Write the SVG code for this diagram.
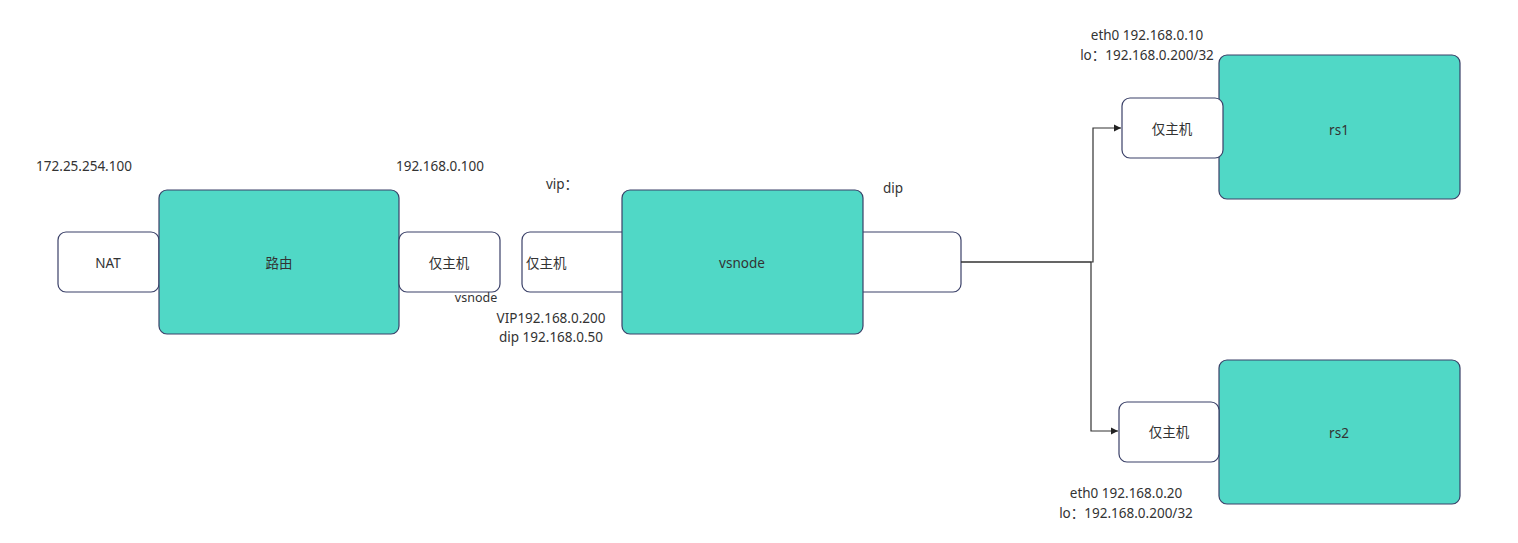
<svg xmlns="http://www.w3.org/2000/svg" width="1518" height="543" viewBox="0 0 1518 543">
<defs>
<style>
.w{fill:#ffffff;stroke:#3a4068;stroke-width:1.2}
.t{fill:#50d8c6;stroke:#3a4068;stroke-width:1.2}
text{font-family:"Noto Sans","Noto Sans CJK SC",sans-serif;font-size:13.5px;fill:#333333}
.m{text-anchor:middle;dominant-baseline:central}
.c{fill:none;stroke:#333333;stroke-width:1.2}
</style>
<marker id="ah" markerWidth="8" markerHeight="8" refX="7" refY="4" orient="auto" markerUnits="userSpaceOnUse">
<path d="M0,0.5 L7,4 L0,7.5 Z" fill="#222222"/>
</marker>
</defs>
<rect width="1518" height="543" fill="#ffffff"/>
<g id="nat"><rect class="w" x="58" y="232" width="101" height="60" rx="8"/><text class="m" x="108" y="263">NAT</text></g>
<g id="router"><rect class="t" x="159" y="190" width="240" height="144" rx="8"/><text class="m" x="279" y="263">路由</text></g>
<g id="hostonly1"><rect class="w" x="399" y="232" width="101" height="60" rx="8"/><text class="m" x="449" y="263">仅主机</text></g>
<g id="hostonly2"><rect class="w" x="522" y="232" width="120" height="60" rx="8"/><text x="526" y="268">仅主机</text></g>
<g id="dipbox"><rect class="w" x="840" y="232" width="121" height="60" rx="8"/></g>
<g id="vsnode"><rect class="t" x="622" y="190" width="241" height="144" rx="8"/><text class="m" x="742" y="263">vsnode</text></g>
<g id="rs1"><rect class="t" x="1219" y="55" width="241" height="144" rx="8"/><text class="m" x="1339" y="130">rs1</text></g>
<g id="rs1host"><rect class="w" x="1122" y="98" width="101" height="60" rx="8"/><text class="m" x="1172" y="129">仅主机</text></g>
<g id="rs2"><rect class="t" x="1219" y="360" width="241" height="144" rx="8"/><text class="m" x="1339" y="433">rs2</text></g>
<g id="rs2host"><rect class="w" x="1119" y="402" width="100" height="60" rx="8"/><text class="m" x="1169" y="432">仅主机</text></g>
<g id="labels">
<text class="m" x="84" y="166">172.25.254.100</text>
<text class="m" x="440" y="166">192.168.0.100</text>
<text class="m" x="562" y="184">vip：</text>
<text class="m" x="893" y="188">dip</text>
<text class="m" x="476" y="297" style="font-size:12.5px">vsnode</text>
<text class="m" x="551" y="318">VIP192.168.0.200</text>
<text class="m" x="551" y="337">dip 192.168.0.50</text>
<text class="m" x="1147" y="35">eth0 192.168.0.10</text>
<text class="m" x="1147" y="55">lo：192.168.0.200/32</text>
<text class="m" x="1126" y="493">eth0 192.168.0.20</text>
<text class="m" x="1126" y="513">lo：192.168.0.200/32</text>
</g>
<g id="connectors">
<path class="c" d="M961,262 L1093,262 L1093,128 L1121,128" marker-end="url(#ah)"/>
<path class="c" d="M961,262 L1091,262 L1091,431 L1118,431" marker-end="url(#ah)"/>
</g>
</svg>
